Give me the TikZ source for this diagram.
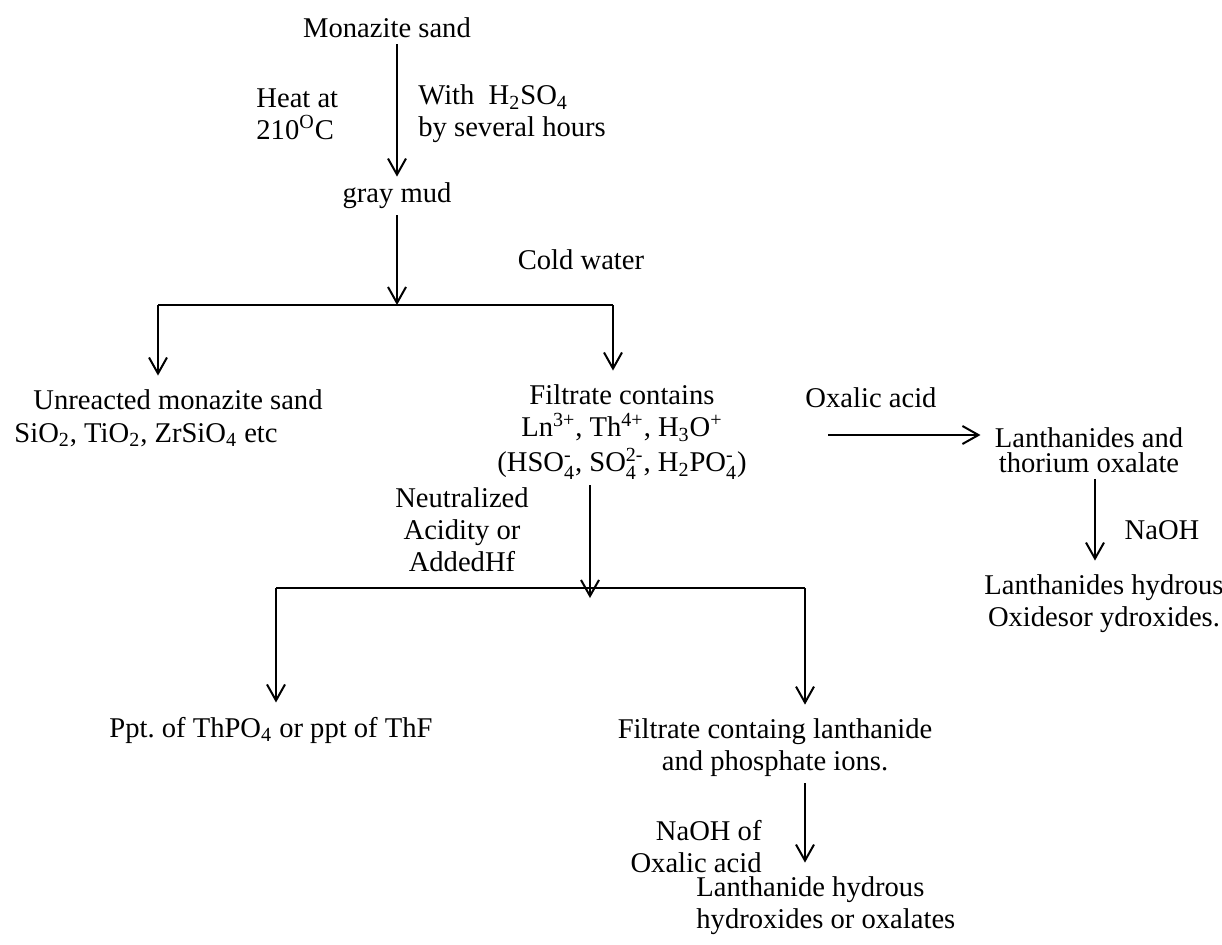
\documentclass[tikz,border=0pt]{standalone}
\usepackage{amsmath}
\usepackage{fontspec}
\setmainfont{Liberation Serif}
\usetikzlibrary{arrows.meta}
\newcommand{\ionss}[2]{$_{\text{#1}}^{\text{#2}}$}

\begin{document}
\begin{tikzpicture}[x=0.5pt,y=-0.5pt,
  every node/.style={font=\fontsize{14.3}{16}\selectfont, inner sep=3pt},
  trait/.style={line width=1pt},
  fleche/.style={line width=1pt, -{Straight Barb[length=8pt,width=9pt]}, shorten >=4pt}]
\useasboundingbox (0,0) rectangle (1222,944);
\fill[white] (0,0) rectangle (1222,944); % fond

% attaque acide
\node (mon) at (387,28) {Monazite sand};
\node (mud) at (397,196) {gray mud};
\node[anchor=west, align=left] (heat) at (250,114) {Heat at\\210\textsuperscript{O}C};
\node[anchor=west, align=left] (acid) at (412,114) {With\ \ H\textsubscript{2}SO\textsubscript{4}\\by several hours};
\draw[fleche, shorten >=0pt] (mon.south -| mud) -- (mud.north);

% eau froide
\node (eau) at (581,260) {Cold water};
\coordinate (t1) at (397,305);
\coordinate (t1g) at (158,305); % branche gauche
\coordinate (t1d) at (613,305); % branche droite
\draw[fleche, shorten >=0pt] (mud.south) -- (t1);
\draw[trait] (t1g) -- (t1d);

\node (unre) at (178,400) {Unreacted monazite sand};
\node (unrb) at (146,435) {SiO\textsubscript{2}, TiO\textsubscript{2}, ZrSiO\textsubscript{4} etc};
\node[align=center] (filt) at (622,432) {Filtrate contains\\Ln\textsuperscript{3+}, Th\textsuperscript{4+}, H\textsubscript{3}O\textsuperscript{+}\\[1.5pt](HSO\ionss{4}{-}, SO\ionss{4}{2-}, H\textsubscript{2}PO\ionss{4}{-})};
\draw[fleche] (t1g) -- (t1g |- unre.north);
\draw[fleche] (t1d) -- (t1d |- filt.north);

% acide oxalique
\node (oxal) at (871,398) {Oxalic acid};
\node[align=center] (lnox) at (1089,450) {Lanthanides and\\[-3.5pt]thorium oxalate};
\node (naoh) at (1162,530) {NaOH};
\node[align=center] (lnhy) at (1104,604) {Lanthanides hydrous\\Oxidesor ydroxides.};
\coordinate (ox0) at (828,435);
\draw[fleche] (ox0) -- (ox0 -| lnox.west);
\draw[fleche] ([xshift=3pt]lnox.south) -- ([xshift=3pt]lnox.south |- lnhy.north);

% neutralisation
\node[align=center] (neut) at (462,530) {Neutralized\\Acidity or\\AddedHf};
\coordinate (t2) at (590,588);
\coordinate (t2g) at (276,588); % branche gauche
\coordinate (t2d) at (805,588); % branche droite
\draw[fleche, shorten >=0pt] (filt.south -| t2) -- ([yshift=-5pt]t2);
\draw[trait] (t2g) -- (t2d);

\node (ppt) at (271,730) {Ppt.\ of ThPO\textsubscript{4} or ppt of ThF};
\node[align=center] (filc) at (775,748) {Filtrate containg lanthanide\\and phosphate ions.};
\draw[fleche] (t2g) -- (t2g |- ppt.north);
\draw[fleche] (t2d) -- (t2d |- filc.north);

% hydroxydes
\node[align=right, anchor=east] (naoh2) at (768,847) {NaOH of\\Oxalic acid};
\node[align=left, anchor=west] (fin) at (690,906) {Lanthanide hydrous\\hydroxides or oxalates};
\draw[fleche] (t2d |- filc.south) -- (t2d |- fin.north);
\end{tikzpicture}
\end{document}
